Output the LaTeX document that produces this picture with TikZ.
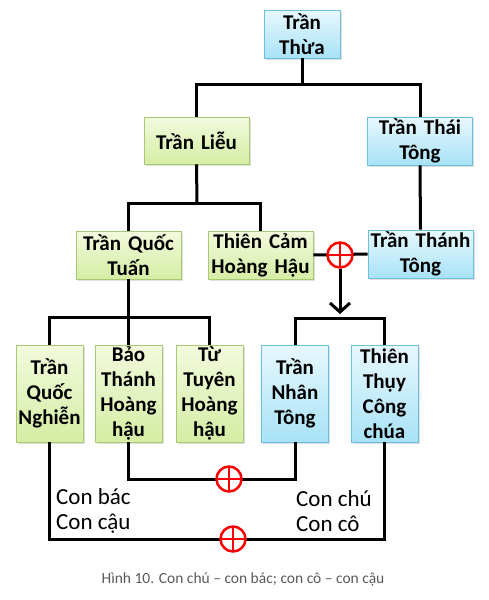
\documentclass[tikz,border=0pt]{standalone}
\usepackage{fontspec}
\setmainfont{Carlito}
\usepackage{tikz}
\usetikzlibrary{arrows.meta, positioning, calc, shadows}

\definecolor{greentop}{HTML}{F2FADD}
\definecolor{greenbot}{HTML}{D5EDA4}
\definecolor{greenline}{HTML}{A9C873}
\definecolor{bluetop}{HTML}{E8F8FE}
\definecolor{bluebot}{HTML}{A8E2F6}
\definecolor{blueline}{HTML}{6BC0DB}
\definecolor{captiongray}{HTML}{595959}

\begin{document}
\begin{tikzpicture}[x=1pt, y=-1pt,
        box/.style={rectangle, inner sep=0pt, align=center, line width=0.8pt,
            font=\fontsize{21}{25}\selectfont\bfseries,
            drop shadow={shadow xshift=1.5pt, shadow yshift=-1.5pt, opacity=.25}},
        greenbox/.style={box, draw=greenline, top color=greentop, bottom color=greenbot},
        bluebox/.style={box, draw=blueline, top color=bluetop, bottom color=bluebot},
        wide/.style={minimum width=105pt, text width=105pt, minimum height=48pt},
        tall/.style={minimum width=67pt, text width=67pt, minimum height=97pt},
        link/.style={draw=black, line width=3pt},
        oplus/.style={circle, draw=red, line width=2.5pt, fill=white, minimum size=25pt, inner sep=0pt,
            path picture={\draw[red, line width=2.5pt]
                (path picture bounding box.north) -- (path picture bounding box.south)
                (path picture bounding box.west) -- (path picture bounding box.east);}},
        note/.style={align=left, font=\fontsize{23}{25}\selectfont, inner sep=0pt}]
        \useasboundingbox (0,0) rectangle (488,600);

        % các thế hệ
        \node[bluebox, minimum width=76pt, text width=76pt, minimum height=48pt] (thua) at (302,34) {Trần\\Thừa};
        \node[greenbox, wide, minimum height=47pt] (lieu) at (196.5,140.5) {Trần Liễu};
        \node[bluebox, wide] (thaitong) at (420,141) {Trần Thái\\Tông};
        \node[greenbox, wide] (tuan) at (128.5,255) {Trần Quốc\\Tuấn};
        \node[greenbox, wide] (thiencam) at (260.5,255) {Thiên Cảm\\Hoàng Hậu};
        \node[bluebox, wide] (thanhtong) at (420.5,254) {Trần Thánh\\Tông};

        \node[greenbox, tall] (nghien) at (49.5,393.5) {Trần\\Quốc\\Nghiễn};
        \node[greenbox, tall] (baothanh) at (128.5,393.5) {Bảo\\Thánh\\Hoàng\\hậu};
        \node[greenbox, tall] (tuyen) at (209.5,393.5) {Từ\\Tuyên\\Hoàng\\hậu};
        \node[bluebox, tall] (nhantong) at (295,393.5) {Trần\\Nhân\\Tông};
        \node[bluebox, tall] (thuy) at (384.5,393.5) {Thiên\\Thụy\\Công\\chúa};

        % các điểm nối
        \coordinate (j1) at (302,84);
        \coordinate (j2) at (197,203);
        \coordinate (j3) at (128.5,317);
        \coordinate (j4) at (340,318);
        \coordinate (tip) at (340,314);

        \path[link] (thua.south) -- (j1);
        \path[link] (lieu.north) |- (j1) -| (thaitong.north);
        \path[link] (thaitong.south) -- (thanhtong.north);
        \path[link] (lieu.south) -- (j2);
        \path[link] (tuan.north) |- (j2) -| (thiencam.north);
        \path[link] (tuan.south) -- (j3);
        \path[link] (nghien.north) |- (j3) -| (tuyen.north);
        \path[link] (j3) -- (baothanh.north);
        \path[link] (nhantong.north) |- (j4) -| (thuy.north);
        \path[link] (thiencam.east) -- (thanhtong.west);
        \path[link] (baothanh.south) |- ($(baothanh.south)+(0,37)$) -| (nhantong.south);
        \path[link] (nghien.south) |- ($(nghien.south)+(0,97)$) -| (thuy.south);

        % hôn nhân
        \node[oplus] (m1) at (340,255) {};
        \node[oplus] (m2) at (229,479) {};
        \node[oplus] (m3) at (233,539) {};
        \path[link, -{Straight Barb[length=9pt, width=20pt, line width=3pt]}] (m1.south) -- (tip);

        \node[note, anchor=west] (left) at (56,511) {Con bác\\Con cậu};
        \node[note, anchor=west] (right) at (296,511) {Con chú\\Con cô};

        \node[text=captiongray, font=\fontsize{15.5}{18}\selectfont] (caption) at (243,579)
            {Hình 10. Con chú – con bác; con cô – con cậu};
    \end{tikzpicture}
\end{document}
